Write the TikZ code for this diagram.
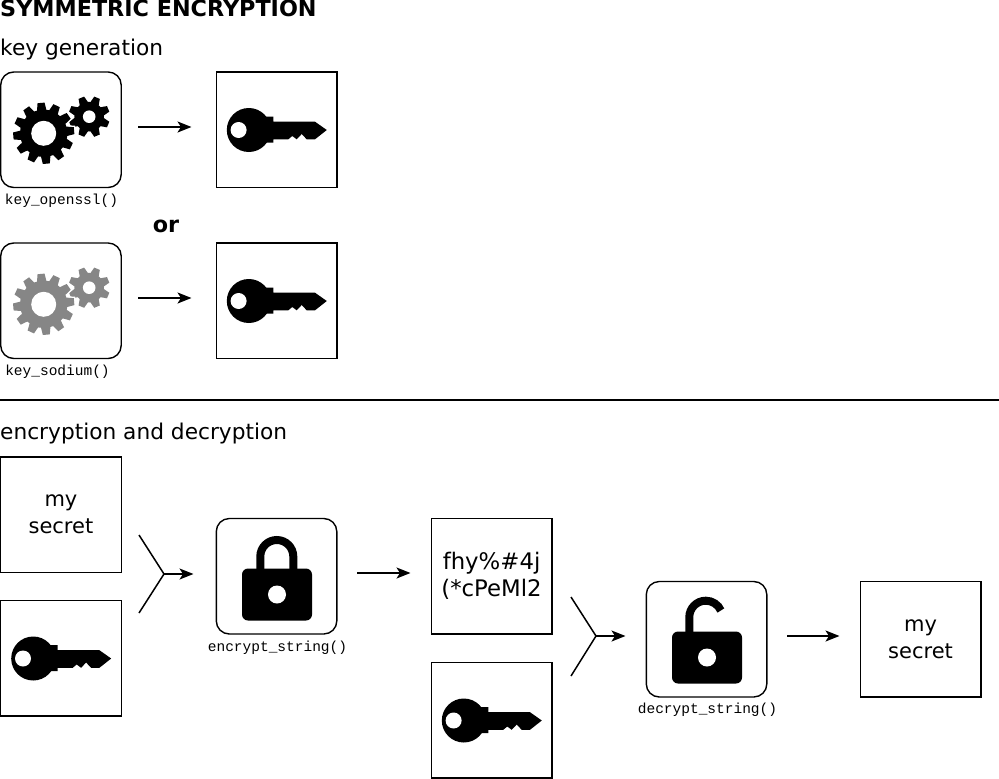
\documentclass[tikz,border=0pt]{standalone}
\usepackage{fontspec}
\setmainfont{DejaVu Sans}
\newfontfamily\monof{Liberation Mono}
\usetikzlibrary{arrows.meta}
\tikzset{
 x=1pt,y=-1pt,
 plainbox/.style={draw=black,line width=1.4pt,fill=white,minimum width=120.5pt,minimum height=115.5pt,inner sep=0pt,outer sep=0pt,anchor=north west},
 roundbox/.style={plainbox,rounded corners=13pt},
 arrowline/.style={line width=1.5pt,-{Stealth[length=14pt,width=11pt,inset=3.5pt]}},
 fork/.style={line width=1.5pt,line join=miter},
 title/.style={anchor=base west,inner sep=0pt,font=\fontsize{21.7}{24}\selectfont},
 boldtitle/.style={inner sep=0pt,font=\bfseries\fontsize{22.3}{24}\selectfont},
 func/.style={inner sep=0pt,font=\monof\fontsize{14.5}{16}\selectfont},
 boxtext/.style={align=center,font=\fontsize{21}{27}\selectfont},
 ciphertext/.style={align=center,font=\fontsize{22.8}{27}\selectfont},
 pics/keyicon/.style={code={
   \fill[black] (32.5,58) circle[radius=22];
   \fill[black] (45,44.7) -- (57,44.7) -- (57,49.7) -- (98.7,49.7) -- (110.5,58) -- (98.7,67.3) -- (90.4,67.3) -- (85.4,62) -- (80.4,67.3) -- (76,64) -- (72,67.3) -- (57,67.3) -- (57,70.7) -- (45,70.7) -- cycle;
   \fill[white] (22.3,58) circle[radius=8];
 }},
 pics/gearicon/.style={code={
   \foreach \a in {0,45,...,315}{\fill[#1,rotate around={\a+22.5:(88.5,44.7)}] (84,31) -- (85.5,24.2) -- (91.5,24.2) -- (93,31) -- cycle;}
   \fill[#1] (88.5,44.7) circle[radius=14.8];
   \fill[white] (88.5,44.7) circle[radius=6.3];
   \foreach \a in {0,30,...,330}{\fill[white,draw=white,line width=3pt,rotate around={\a+5:(43,61.3)}] (38,40) -- (39.5,30.8) -- (46.5,30.8) -- (48,40) -- cycle;}
   \foreach \a in {0,30,...,330}{\fill[#1,rotate around={\a+5:(43,61.3)}] (38,40) -- (39.5,30.8) -- (46.5,30.8) -- (48,40) -- cycle;}
   \fill[#1] (43,61.3) circle[radius=23.7];
   \fill[white] (43,61.3) circle[radius=12.5];
 }},
 pics/lockicon/.style={code={
   \draw[black,line width=8pt] (44,52) -- (44,38) arc[start angle=180,end angle=360,radius=16.5] -- (77,52);
   \fill[black,rounded corners=6pt] (25.7,50) rectangle (95.7,102);
   \fill[white] (60.7,76) circle[radius=9];
 }},
 pics/unlockicon/.style={code={
   \draw[black,line width=8pt] (43,52) -- (43,35.7) arc[start angle=180,end angle=336,radius=16.5];
   \fill[black,rounded corners=6pt] (25.7,50) rectangle (95.7,102);
   \fill[white] (60.7,76) circle[radius=9];
 }},
}
\begin{document}
\begin{tikzpicture}
\useasboundingbox (0,0) rectangle (999,779);
\node[boldtitle,anchor=base west] (ttl) at (0,16.3) {SYMMETRIC ENCRYPTION};
\node[title] (kg) at (0,55.3) {key generation};
\node[title] (ed) at (0,439.3) {encryption and decryption};

\node[roundbox] (gen1) at (0.7,72) {};
\pic at (0.7,72) {gearicon=black};
\node[func] (f1) at (61.5,200.5) {key\_openssl()};
\node[plainbox] (key1) at (216.3,72) {};
\pic at (216.3,72) {keyicon};
\coordinate (a1s) at (138,127); \coordinate (a1e) at (191.5,127);
\draw[arrowline] (a1s) -- (a1e);

\node[boldtitle] (orl) at (166,226) {or};

\node[roundbox] (gen2) at (0.7,243) {};
\pic at (0.7,243) {gearicon=gray!95};
\node[func] (f2) at (57.5,371.5) {key\_sodium()};
\node[plainbox] (key2) at (216.3,243) {};
\pic at (216.3,243) {keyicon};
\coordinate (a2s) at (138,298); \coordinate (a2e) at (191.5,298);
\draw[arrowline] (a2s) -- (a2e);

\coordinate (ruleL) at (0,400); \coordinate (ruleR) at (999,400);
\draw[line width=1.5pt] (ruleL) -- (ruleR);

\node[plainbox] (sec1) at (0.7,457) {};
\node[boxtext] at (sec1.center) {my\\secret};
\node[plainbox] (key3) at (0.7,600.5) {};
\pic at (0.7,600.5) {keyicon};
\coordinate (y1a) at (139,535); \coordinate (y1b) at (139,613); \coordinate (y1c) at (164,574); \coordinate (y1d) at (193.5,574);
\draw[fork] (y1a) -- (y1c) -- (y1b);
\draw[arrowline] (y1c) -- (y1d);

\node[roundbox] (lock) at (216.3,518.5) {};
\pic at (216.3,518.5) {lockicon};
\node[func] (f3) at (277.5,647.5) {encrypt\_string()};
\coordinate (a3s) at (357,573); \coordinate (a3e) at (410.5,573);
\draw[arrowline] (a3s) -- (a3e);

\node[plainbox] (cip) at (431.3,518.5) {};
\node[ciphertext] at (cip.center) {fhy\%\#4j\\(*cPeMl2};
\node[plainbox] (key4) at (431.3,662.5) {};
\pic at (431.3,662.5) {keyicon};
\coordinate (y2a) at (571,597); \coordinate (y2b) at (571,676); \coordinate (y2c) at (596,636); \coordinate (y2d) at (625.5,636);
\draw[fork] (y2a) -- (y2c) -- (y2b);
\draw[arrowline] (y2c) -- (y2d);

\node[roundbox] (unl) at (646.3,581.5) {};
\pic at (646.3,581.5) {unlockicon};
\node[func] (f4) at (707.5,710) {decrypt\_string()};
\coordinate (a4s) at (787,636); \coordinate (a4e) at (839.5,636);
\draw[arrowline] (a4s) -- (a4e);

\node[plainbox] (sec2) at (860.3,581.5) {};
\node[boxtext] at (sec2.center) {my\\secret};
\end{tikzpicture}
\end{document}
